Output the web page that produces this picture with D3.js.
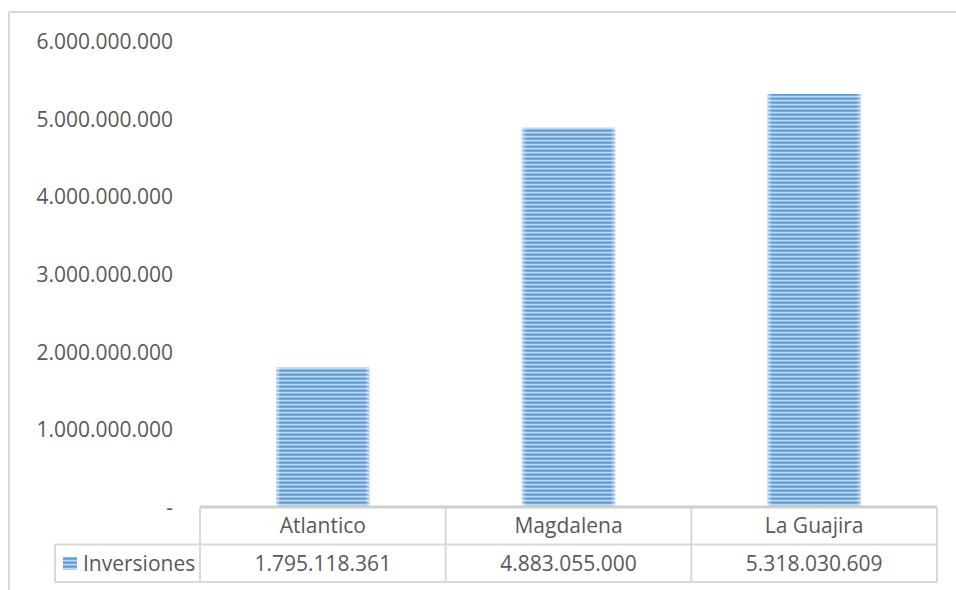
<!DOCTYPE html>
<html>
<head>
<meta charset="utf-8">
<script src="https://cdn.jsdelivr.net/npm/d3@7"></script>
<style>
  html, body { margin: 0; padding: 0; background: #fff; }
  svg { display: block; }
  text { font-family: "Open Sans", sans-serif; fill: #595959; }
</style>
</head>
<body>
<svg id="chart" width="956" height="590"></svg>
<script>
// Inversiones por departamento
const categories = ["Atlantico", "Magdalena", "La Guajira"];
const seriesName = "Inversiones";
const inversiones = [1795118361, 4883055000, 5318030609];
const yTicks = [0, 1e9, 2e9, 3e9, 4e9, 5e9, 6e9];

const locale = d3.formatLocale({ decimal: ",", thousands: ".", grouping: [3], currency: ["$", ""] });
const fmt = locale.format(",d");
const tickLabel = v => v === 0 ? "-" : fmt(v);

const svg = d3.select("#chart");
const W = 956, H = 590;
const gridColor = "#d9d9d9";

// plot geometry
const plot = { left: 200, right: 937, top: 41, bottom: 507 };
const rowH = 37.5;
const legendLeft = 55;

const y = d3.scaleLinear().domain([0, 6e9]).range([plot.bottom, plot.top]);
const x = d3.scaleBand().domain(categories).range([plot.left, plot.right]).paddingInner(0).paddingOuter(0);
const barW = x.bandwidth() * 0.38;

// striped fill
const defs = svg.append("defs");
const pat = defs.append("pattern")
  .attr("id", "stripes")
  .attr("patternUnits", "userSpaceOnUse")
  .attr("width", 8).attr("height", 4);
pat.append("rect").attr("width", 8).attr("height", 4).attr("fill", "#c3d9ef");
pat.append("rect").attr("y", 1.5).attr("width", 8).attr("height", 2.2).attr("fill", "#5b9bd5");

const edge = defs.append("linearGradient").attr("id", "edgeFade").attr("x1", 0).attr("x2", 1);
[[0, 0.55], [0.05, 0.0], [0.95, 0.0], [1, 0.55]].forEach(([o, a]) =>
  edge.append("stop").attr("offset", o).attr("stop-color", "#ffffff").attr("stop-opacity", a));

// outer chart frame (top and left edges visible)
svg.append("line").attr("x1", 9).attr("x2", W + 5).attr("y1", 12).attr("y2", 12)
  .attr("stroke", gridColor).attr("stroke-width", 2);
svg.append("line").attr("x1", 9).attr("x2", 9).attr("y1", 12).attr("y2", H + 5)
  .attr("stroke", gridColor).attr("stroke-width", 2);

// y axis labels
const yAxis = d3.axisLeft(y).tickValues(yTicks).tickFormat(tickLabel).tickSize(0).tickPadding(0);
const gy = svg.append("g").attr("transform", "translate(173,0)").call(yAxis);
gy.select(".domain").remove();
gy.selectAll("text")
  .attr("font-size", 21)
  .attr("font-family", "'Open Sans', sans-serif")
  .style("fill", "#595959")
  .attr("dy", "0.35em");

// bars
const bars = svg.append("g");
bars.selectAll("rect.bar")
  .data(inversiones)
  .join("rect")
  .attr("class", "bar")
  .attr("x", (d, i) => x(categories[i]) + (x.bandwidth() - barW) / 2)
  .attr("y", d => y(d))
  .attr("width", barW)
  .attr("height", d => y(0) - y(d))
  .attr("fill", "url(#stripes)");
bars.selectAll("rect.fade")
  .data(inversiones)
  .join("rect")
  .attr("class", "fade")
  .attr("x", (d, i) => x(categories[i]) + (x.bandwidth() - barW) / 2)
  .attr("y", d => y(d))
  .attr("width", barW)
  .attr("height", d => y(0) - y(d))
  .attr("fill", "url(#edgeFade)");

// data table beneath the plot
const table = svg.append("g");
const row1 = plot.bottom + rowH;
const row2 = row1 + rowH;

table.append("line").attr("x1", plot.left).attr("x2", plot.right)
  .attr("y1", plot.bottom).attr("y2", plot.bottom)
  .attr("stroke", "#cfcfcf").attr("stroke-width", 3);
[row1, row2].forEach(yy =>
  table.append("line").attr("x1", legendLeft).attr("x2", plot.right)
    .attr("y1", yy).attr("y2", yy)
    .attr("stroke", gridColor).attr("stroke-width", 2));

const colEdges = categories.map(c => x(c)).concat([plot.right]);
colEdges.forEach(xx =>
  table.append("line").attr("x1", xx).attr("x2", xx)
    .attr("y1", plot.bottom).attr("y2", row2)
    .attr("stroke", gridColor).attr("stroke-width", 2));
table.append("line").attr("x1", legendLeft).attr("x2", legendLeft)
  .attr("y1", row1).attr("y2", row2)
  .attr("stroke", gridColor).attr("stroke-width", 2);

// category headers
table.selectAll("text.cat")
  .data(categories)
  .join("text")
  .attr("class", "cat")
  .attr("x", d => x(d) + x.bandwidth() / 2)
  .attr("y", plot.bottom + rowH / 2)
  .attr("dy", "0.35em")
  .attr("text-anchor", "middle")
  .attr("font-size", 21)
  .text(d => d);

// values
table.selectAll("text.val")
  .data(inversiones)
  .join("text")
  .attr("class", "val")
  .attr("x", (d, i) => x(categories[i]) + x.bandwidth() / 2)
  .attr("y", row1 + rowH / 2)
  .attr("dy", "0.35em")
  .attr("text-anchor", "middle")
  .attr("font-size", 21)
  .text(d => fmt(d));

// legend key
table.append("rect")
  .attr("x", 63).attr("y", row1 + rowH / 2 - 6.5)
  .attr("width", 14).attr("height", 13)
  .attr("fill", "url(#stripes)");
table.append("text")
  .attr("x", 83)
  .attr("y", row1 + rowH / 2)
  .attr("dy", "0.35em")
  .attr("font-size", 21)
  .text(seriesName);
</script>
</body>
</html>
